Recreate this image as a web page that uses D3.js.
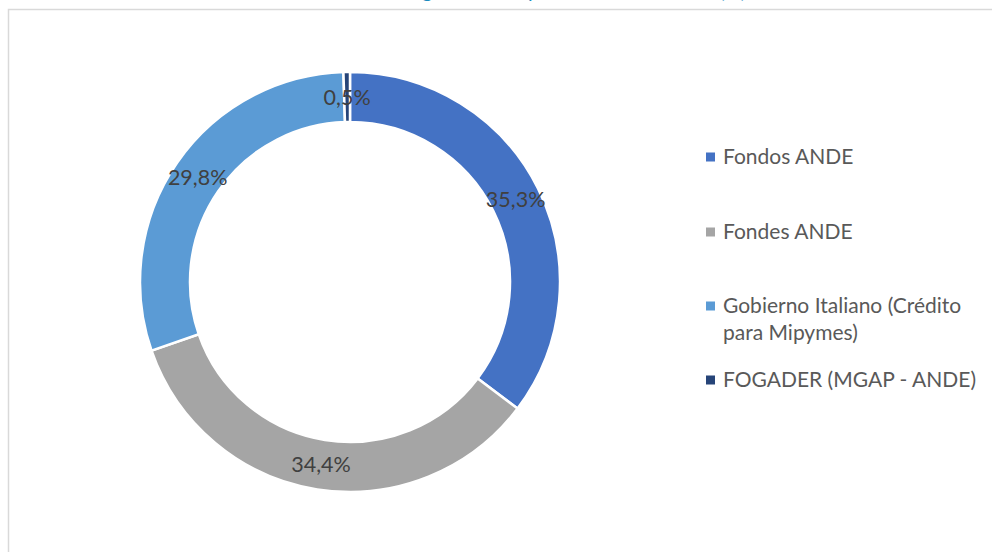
<!DOCTYPE html>
<html>
<head>
<meta charset="utf-8">
<script src="https://cdn.jsdelivr.net/npm/d3@7"></script>
<style>
  body { margin: 0; background: #fff; }
  svg { display: block; }
</style>
</head>
<body>
<svg id="chart" width="992" height="552"></svg>
<script>
// data
let categories = ["Fondos ANDE", "Fondes ANDE", "Gobierno Italiano (Crédito para Mipymes)", "FOGADER (MGAP - ANDE)"];
let legendLines = [["Fondos ANDE"], ["Fondes ANDE"], ["Gobierno Italiano (Crédito", "para Mipymes)"], ["FOGADER (MGAP - ANDE)"]];
let shares = [35.3, 34.4, 29.8, 0.5];
let labels = ["35,3%", "34,4%", "29,8%", "0,5%"];
let colors = ["#4472C4", "#A5A5A5", "#5B9BD5", "#264478"];
let titleText = "Distribución de la cartera garantizada por fuente de fondeo (%)";

let font = "Lato, 'Open Sans', sans-serif";
let svg = d3.select("#chart");

// chart frame (runs off the right and bottom)
svg.append("rect")
  .attr("x", 8.5).attr("y", 9.5)
  .attr("width", 1100).attr("height", 700)
  .attr("fill", "#fff")
  .attr("stroke", "#d9d9d9")
  .attr("stroke-width", 1.5);

// title, mostly cut off above the view
svg.append("text")
  .attr("x", 746).attr("y", -2.5)
  .attr("text-anchor", "end")
  .style("font-family", font)
  .style("font-size", "20px")
  .style("fill", "#1a8bbf")
  .text(titleText);

let cx = 350, cy = 282;
let outerR = 210, innerR = 160;

let pie = d3.pie().sort(null).value(d => d);
let arcData = pie(shares);

let arc = d3.arc().innerRadius(innerR).outerRadius(outerR);
let labelArc = d3.arc().innerRadius(185).outerRadius(185);

let g = svg.append("g").attr("transform", "translate(" + cx + "," + cy + ")");

g.selectAll("path")
  .data(arcData)
  .enter()
  .append("path")
  .attr("d", arc)
  .attr("fill", (d, i) => colors[i])
  .attr("stroke", "#fff")
  .attr("stroke-width", 2.5);

g.selectAll("text.lbl")
  .data(arcData)
  .enter()
  .append("text")
  .attr("class", "lbl")
  .attr("transform", d => "translate(" + labelArc.centroid(d) + ")")
  .attr("text-anchor", "middle")
  .attr("dy", "0.36em")
  .style("font-family", font)
  .style("font-size", "21.5px")
  .style("fill", "#404040")
  .text((d, i) => labels[i]);

// legend
let legendY = [157, 232, 306, 380];
let legend = svg.append("g");
legendLines.forEach(function(lines, i) {
  legend.append("rect")
    .attr("x", 706).attr("y", legendY[i] - 4.5)
    .attr("width", 9).attr("height", 9)
    .attr("fill", colors[i]);
  let t = legend.append("text")
    .style("font-family", font)
    .style("font-size", "21px")
    .style("fill", "#595959");
  lines.forEach(function(line, j) {
    t.append("tspan")
      .attr("x", 723)
      .attr("y", legendY[i] + j * 27)
      .attr("dy", "0.35em")
      .text(line);
  });
});
</script>
</body>
</html>
